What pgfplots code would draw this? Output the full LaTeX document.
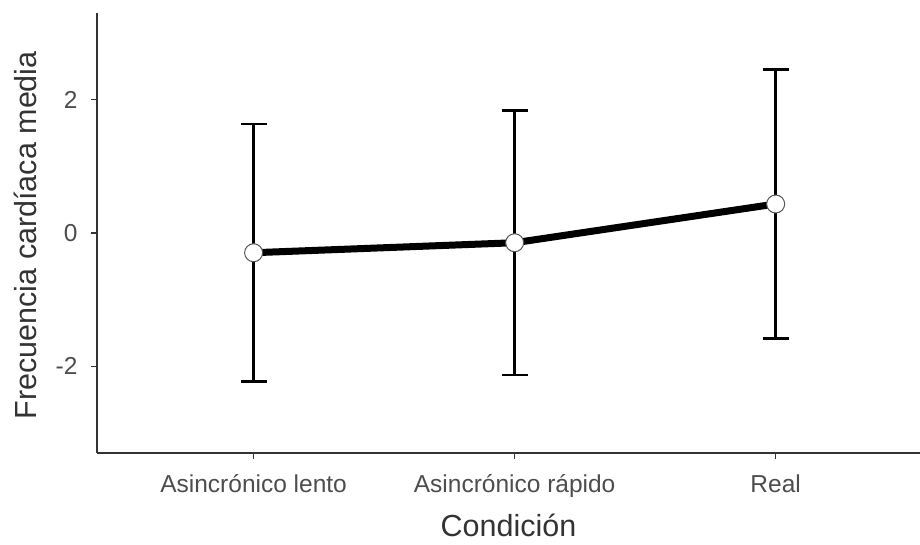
\documentclass[border=0pt]{standalone}
\usepackage{pgfplots}
\pgfplotsset{compat=1.18}
\usepackage{fontspec}
\setmainfont{Liberation Sans}
\definecolor{axgray}{HTML}{333333}
\definecolor{tkgray}{HTML}{4D4D4D}
\definecolor{mkgray}{HTML}{555555}
\begin{document}
\begin{tikzpicture}[x=1pt,y=1pt]
\begin{axis}[
  at={(97pt,92pt)}, anchor=south west,
  scale only axis, width=823pt, height=440pt,
  xmin=-0.6, xmax=2.553, ymin=-3.3, ymax=3.3,
  axis x line*=bottom, axis y line*=left,
  axis line style={axgray, line width=1.3pt, -},
  xtick={0,1,2}, xticklabels={Asincrónico lento, Asincrónico rápido, Real},
  ytick={-2,0,2}, yticklabels={-2,0,2},
  tick align=outside, major tick length=6pt,
  tick style={axgray, line width=1.3pt},
  ticklabel style={font=\fontsize{24.5}{29}\selectfont, text=tkgray},
  xticklabel style={yshift=-12pt},
  yticklabel style={xshift=-10pt},
  xlabel={Condición}, ylabel={Frecuencia cardíaca media},
  every axis x label/.style={at={(axis description cs:0.5,0)}, anchor=base, yshift=-84pt, font=\fontsize{30.5}{35}\selectfont, text=axgray},
  every axis y label/.style={at={(axis description cs:-0.0875,0.495)}, anchor=center, rotate=90, font=\fontsize{30.5}{35}\selectfont, text=axgray},
  clip=false,
]
\addplot[black, line width=7pt, mark=none,
  error bars/.cd, y dir=both, y explicit,
  error bar style={draw=black, line width=2.5pt},
  error mark options={draw=black, line width=2.5pt, mark size=13pt, rotate=90}]
  coordinates {(0,-0.296) +- (0,1.93) (1,-0.146) +- (0,1.985) (2,0.435) +- (0,2.015)};
\addplot[only marks, mark=*, mark size=9pt, mark options={fill=white, draw=mkgray, line width=1pt}]
  coordinates {(0,-0.296) (1,-0.146) (2,0.435)};
\end{axis}
\pgfresetboundingbox
\useasboundingbox (0,0) rectangle (920,545);
\end{tikzpicture}
\end{document}
